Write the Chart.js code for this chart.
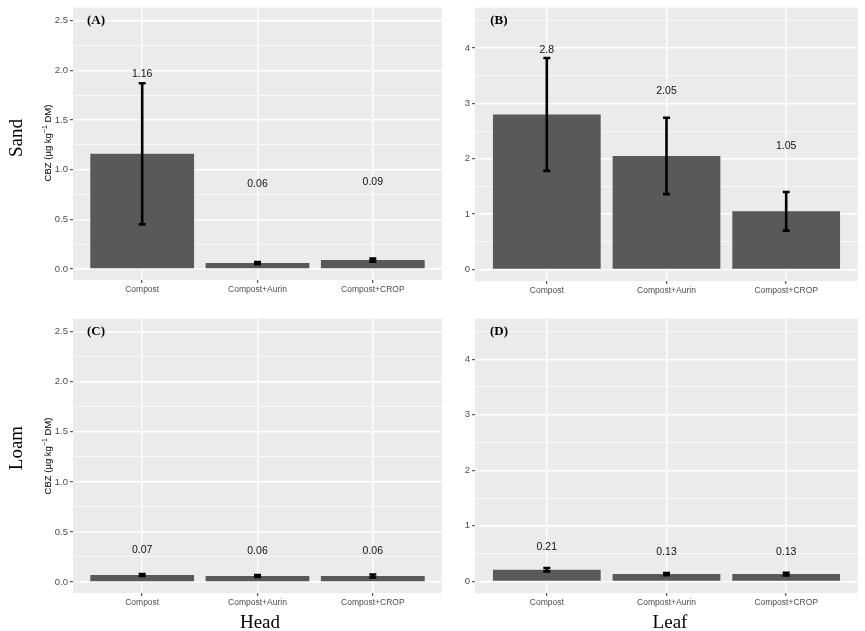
<!DOCTYPE html>
<html>
<head>
<meta charset="utf-8">
<script src="https://cdn.jsdelivr.net/npm/chart.js@4.4.1/dist/chart.umd.min.js"></script>
<style>
  body { margin: 0; background: #fff; width: 865px; height: 631px; position: relative; overflow: hidden; font-family: "Liberation Sans", Arial, sans-serif; }
  canvas { position: absolute; }
  .lbl { position: absolute; white-space: nowrap; transform: translate(-50%, -50%); line-height: 1; }
  .serif { font-family: "Liberation Serif", "Times New Roman", serif; font-size: 19px; color: #000; }
  .rot { transform: translate(-50%, -50%) rotate(-90deg); }
  .ytitle { font-size: 9.5px; color: #000; }
  .ytitle sup { font-size: 7px; }
</style>
</head>
<body>
<canvas id="cA" width="445" height="305" style="left:0;top:0"></canvas>
<canvas id="cB" width="420" height="306" style="left:445px;top:0"></canvas>
<canvas id="cC" width="445" height="307" style="left:0;top:311px"></canvas>
<canvas id="cD" width="420" height="307" style="left:445px;top:311px"></canvas>

<div class="lbl serif rot" style="left:15px;top:138px">Sand</div>
<div class="lbl serif rot" style="left:15px;top:448px">Loam</div>
<div class="lbl serif" style="left:260px;top:621px">Head</div>
<div class="lbl serif" style="left:670px;top:621px">Leaf</div>
<div class="lbl ytitle rot" style="left:47px;top:143px">CBZ (µg kg<sup>−1</sup> DM)</div>
<div class="lbl ytitle rot" style="left:47px;top:456px">CBZ (µg kg<sup>−1</sup> DM)</div>

<script>
// data
const categories = ['Compost', 'Compost+Aurin', 'Compost+CROP'];

const sandHead = [1.16, 0.06, 0.09];
const sandHeadErr = [0.71, 0.01, 0.015];
const sandHeadLabelY = [1.96, 0.85, 0.88];

const sandLeaf = [2.8, 2.05, 1.05];
const sandLeafErr = [1.02, 0.69, 0.35];
const sandLeafLabelY = [3.97, 3.22, 2.23];

const loamHead = [0.07, 0.06, 0.06];
const loamHeadErr = [0.01, 0.01, 0.015];
const loamHeadLabelY = [0.32, 0.31, 0.31];

const loamLeaf = [0.21, 0.13, 0.13];
const loamLeafErr = [0.03, 0.02, 0.025];
const loamLeafLabelY = [0.61, 0.52, 0.52];

const headTicks = [0, 0.5, 1, 1.5, 2, 2.5];
const headMinor = [0.25, 0.75, 1.25, 1.75, 2.25];
const leafTicks = [0, 1, 2, 3, 4];
const leafMinor = [0.5, 1.5, 2.5, 3.5, 4.5];

const sansFont = '"Liberation Sans", Arial, sans-serif';

const bgPlugin = {
  id: 'panelBg',
  beforeDraw(chart) {
    const a = chart.chartArea, ctx = chart.ctx;
    ctx.save();
    ctx.fillStyle = '#EBEBEB';
    ctx.fillRect(a.left, a.top, a.right - a.left, a.bottom - a.top);
    ctx.restore();
  }
};

const errPlugin = {
  id: 'errbars',
  afterDatasetsDraw(chart, args, opts) {
    const ctx = chart.ctx, x = chart.scales.x, y = chart.scales.y;
    ctx.save();
    ctx.strokeStyle = '#000';
    ctx.lineWidth = 2.6;
    opts.values.forEach((v, i) => {
      const px = x.getPixelForValue(i + 1);
      const top = y.getPixelForValue(v + opts.errors[i]);
      const bot = y.getPixelForValue(v - opts.errors[i]);
      ctx.beginPath();
      ctx.moveTo(px, top); ctx.lineTo(px, bot);
      ctx.moveTo(px - 3.5, top); ctx.lineTo(px + 3.5, top);
      ctx.moveTo(px - 3.5, bot); ctx.lineTo(px + 3.5, bot);
      ctx.stroke();
    });
    ctx.fillStyle = '#111';
    ctx.font = '10.5px ' + sansFont;
    ctx.textAlign = 'center';
    ctx.textBaseline = 'middle';
    opts.values.forEach((v, i) => {
      ctx.fillText(String(v), x.getPixelForValue(i + 1), y.getPixelForValue(opts.labelY[i]));
    });
    ctx.font = 'bold 13px "Liberation Serif", "Times New Roman", serif';
    ctx.fillStyle = '#000';
    ctx.fillText(opts.letter, x.getPixelForValue(0.6), y.getPixelForValue(opts.letterY));
    ctx.restore();
  }
};

function makePanel(id, values, errors, labelY, letter, letterY, yMin, yMax, major, minor, decimals, axisW, pad) {
  const all = major.concat(minor).sort((a, b) => a - b);
  const isMajor = v => major.includes(v);
  return new Chart(document.getElementById(id), {
    type: 'bar',
    data: {
      datasets: [{
        data: values.map((v, i) => ({ x: i + 1, y: v })),
        backgroundColor: '#595959',
        barPercentage: 0.9,
        categoryPercentage: 1
      }]
    },
    options: {
      responsive: false,
      animation: false,
      layout: { padding: pad },
      plugins: {
        legend: { display: false },
        tooltip: { enabled: false },
        errbars: { values: values, errors: errors, labelY: labelY, letter: letter, letterY: letterY }
      },
      scales: {
        x: {
          type: 'linear',
          offset: false,
          min: 0.4,
          max: 3.6,
          afterBuildTicks: s => { s.ticks = categories.map((c, i) => ({ value: i + 1 })); },
          afterFit: s => { s.height = 25; },
          ticks: {
            callback: v => categories[Math.round(v) - 1],
            color: '#4D4D4D',
            font: { size: 8.5, family: sansFont },
            padding: 2,
            maxRotation: 0,
            autoSkip: false
          },
          grid: { offset: false, color: '#FFFFFF', lineWidth: 1.4, tickLength: 3, tickColor: '#333333', tickWidth: 1 },
          border: { display: false }
        },
        y: {
          min: yMin,
          max: yMax,
          afterBuildTicks: s => { s.ticks = all.map(v => ({ value: v })); },
          afterFit: s => { s.width = axisW; },
          ticks: {
            callback: v => isMajor(v) ? v.toFixed(decimals) : '',
            color: '#4D4D4D',
            font: { size: 9.5, family: sansFont },
            padding: 2,
            autoSkip: false
          },
          grid: {
            color: '#FFFFFF',
            lineWidth: c => (c.tick && isMajor(c.tick.value)) ? 1.4 : 0.7,
            tickLength: 3,
            tickColor: c => (c.tick && isMajor(c.tick.value)) ? '#333333' : 'rgba(0,0,0,0)',
            tickWidth: 1
          },
          border: { display: false }
        }
      }
    },
    plugins: [bgPlugin, errPlugin]
  });
}

makePanel('cA', sandHead, sandHeadErr, sandHeadLabelY, '(A)', 2.5, -0.11, 2.63, headTicks, headMinor, 1, 73, { top: 7, right: 3, left: 0, bottom: 0 });
makePanel('cB', sandLeaf, sandLeafErr, sandLeafLabelY, '(B)', 4.5, -0.21, 4.73, leafTicks, leafMinor, 0, 30, { top: 6, right: 7, left: 0, bottom: 0 });
makePanel('cC', loamHead, loamHeadErr, loamHeadLabelY, '(C)', 2.5, -0.11, 2.63, headTicks, headMinor, 1, 73, { top: 7, right: 3, left: 0, bottom: 0 });
makePanel('cD', loamLeaf, loamLeafErr, loamLeafLabelY, '(D)', 4.5, -0.21, 4.73, leafTicks, leafMinor, 0, 30, { top: 7, right: 7, left: 0, bottom: 0 });
</script>
</body>
</html>
